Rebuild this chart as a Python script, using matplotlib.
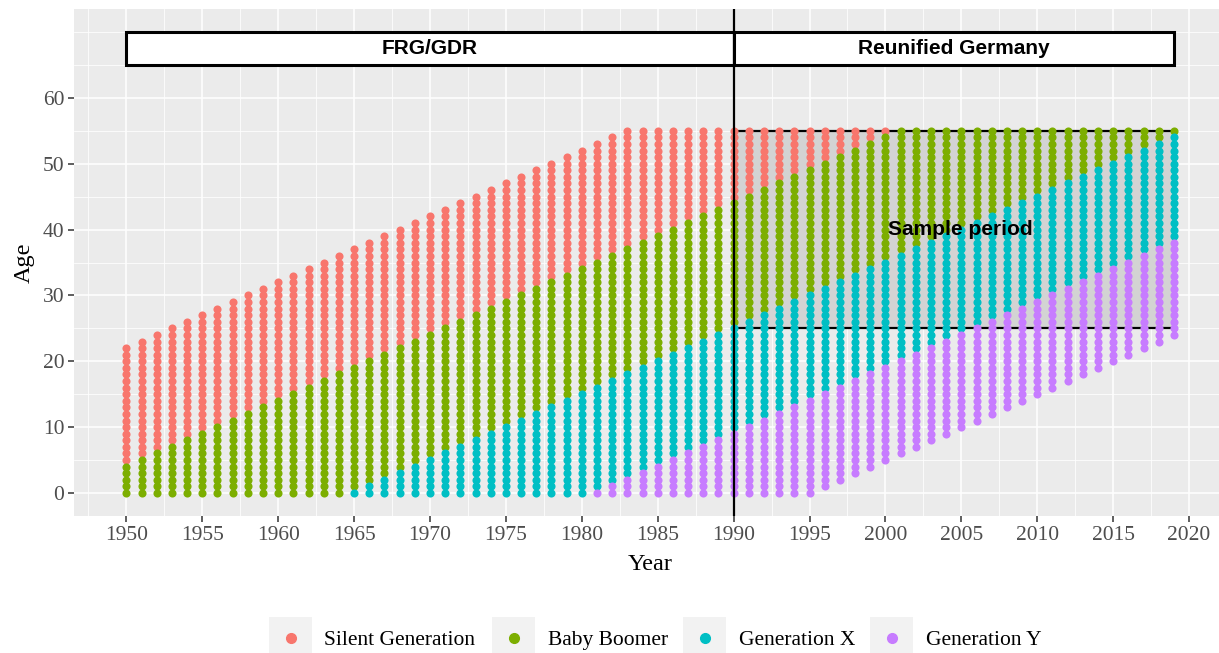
import numpy as np
import matplotlib
matplotlib.use('Agg')
import matplotlib.pyplot as plt
from matplotlib.patches import Rectangle

# survey years and birth cohorts
years = list(range(1950, 2020))
generations = ['Silent Generation', 'Baby Boomer', 'Generation X', 'Generation Y']
birth_first = [1928, 1946, 1965, 1981]
birth_last = [1945, 1964, 1980, 1995]
max_age = 55
colors = ['#F8766D', '#7CAE00', '#00BFC4', '#C77CFF']

# sample period and historical periods
sample_years = [1990, 2019]
sample_ages = [25, 55]
periods = ['FRG/GDR', 'Reunified Germany']
period_start = [1950, 1990]
period_end = [1990, 2019]

W, H = 1219, 653
fig = plt.figure(figsize=(W / 100, H / 100), dpi=100)
ax = fig.add_axes([74 / W, 1 - 516 / H, (1227 - 74) / W, (516 - 9) / H])
ax.set_facecolor('#EBEBEB')
for s in ax.spines.values():
    s.set_visible(False)

# sample period rectangle (under points)
ax.add_patch(Rectangle((sample_years[0], sample_ages[0]),
                       sample_years[1] - sample_years[0],
                       sample_ages[1] - sample_ages[0],
                       facecolor='#D3D3D3', edgecolor='black', lw=1.6, zorder=2))

for name, b0, b1, c in zip(generations, birth_first, birth_last, colors):
    xs, ys = [], []
    for yr in years:
        for b in range(b0, b1 + 1):
            age = yr - b
            if 0 <= age <= max_age:
                xs.append(yr)
                ys.append(age)
    ax.scatter(xs, ys, s=34, color=c, linewidths=0, zorder=3)

ax.text(np.mean([sample_years[0], sample_years[1]]) + 0.4, 40, 'Sample period',
        family='Liberation Sans', weight='bold', fontsize=15,
        ha='center', va='center', zorder=6)

# period boxes
for lab, a, b in zip(periods, period_start, period_end):
    ax.add_patch(Rectangle((a, 65), b - a, 5, facecolor='white',
                           edgecolor='black', lw=2.2, zorder=4))
    ax.text((a + b) / 2, 67.5, lab, family='Liberation Sans', weight='bold',
            fontsize=15, ha='center', va='center', zorder=6)

ax.axvline(1990, color='black', lw=1.6, zorder=5)

ax.set_xlim(1946.55, 2022.45)
ax.set_ylim(-3.5, 73.5)
ax.set_xticks(range(1950, 2021, 5))
ax.set_xticks(np.arange(1947.5, 2023, 5), minor=True)
ax.set_yticks(range(0, 61, 10))
ax.set_yticks(list(range(5, 66, 10)) + [70], minor=True)
ax.grid(which='major', color='white', lw=1.1)
ax.grid(which='minor', color='white', lw=0.55)
ax.set_axisbelow(True)
ax.tick_params(which='minor', length=0)
ax.tick_params(which='major', length=4, width=1.1, color='#333333',
               labelcolor='#4D4D4D', labelsize=15.5, pad=3)
for lab in ax.get_xticklabels() + ax.get_yticklabels():
    lab.set_family('Liberation Serif')

ax.set_xlabel('Year', family='Liberation Serif', fontsize=17.5, labelpad=7)
ax.set_ylabel('Age', family='Liberation Serif', fontsize=17.5, labelpad=6)

# legend drawn in pixel positions
def fx(px):
    return px / W

def fy(py):
    return 1 - py / H

key_left = [269, 492, 683, 870]
text_left = [324, 548, 739, 926]
for name, c, kl, tl in zip(generations, colors, key_left, text_left):
    fig.patches.append(Rectangle((fx(kl), fy(660)), 43 / W, 43 / H,
                                 transform=fig.transFigure, facecolor='#F2F2F2',
                                 edgecolor='none'))
    fig.lines.append(plt.Line2D([fx(kl + 21.5)], [fy(638)], marker='o',
                                markersize=7, color=c, lw=0,
                                transform=fig.transFigure))
    fig.text(fx(tl), fy(645), name, family='Liberation Serif', fontsize=15.5,
             ha='left', va='baseline')

fig.savefig('out.png', dpi=100)
